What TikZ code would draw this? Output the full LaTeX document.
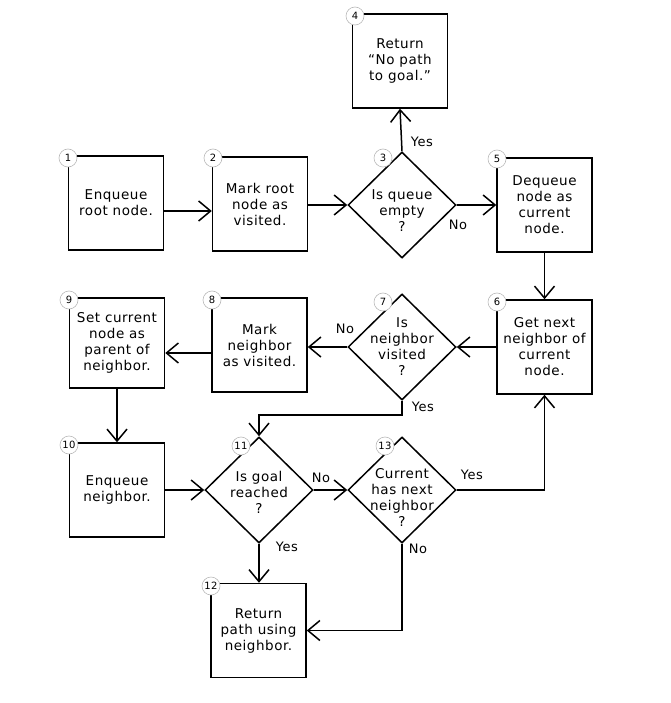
\documentclass[tikz,border=0pt]{standalone}
\usepackage{fontspec}
\setmainfont{DejaVu Sans}[LetterSpace=4]
\usetikzlibrary{arrows.meta,shapes.geometric}
\begin{document}
\begin{tikzpicture}[x=1pt,y=-1pt,
  every node/.style={font=\fontsize{13.5}{16}\selectfont},
  box/.style={draw, line width=1.5pt, minimum width=95pt, minimum height=94pt, align=center, inner sep=1pt},
  dia/.style={draw, diamond, line width=1.5pt, minimum width=108pt, minimum height=106pt, inner sep=0pt},
  txt/.style={align=center, inner sep=0pt},
  num/.style={circle, draw=gray!55, fill=white, line width=0.6pt, minimum size=18pt, inner sep=0.5pt, font=\fontsize{10}{11}\selectfont},
  arr/.style={line width=1.5pt, -{Straight Barb[length=12pt,width=20pt]}},
  lab/.style={inner sep=0pt, font=\fontsize{13}{14}\selectfont}
]
\fill[white] (0,0) rectangle (670,703);
\useasboundingbox (0,0) rectangle (670,703);

% boxes
\node[box] (b1) at (116,203) {Enqueue\\root node.};
\node[box] (b2) at (260,204) {Mark root\\node as\\visited.};
\node[box] (b4) at (400,61) {Return\\``No path\\to goal.''};
\node[box] (b5) at (544.5,205) {Dequeue\\node as\\current\\node.};
\node[box] (b6) at (544.5,347) {Get next\\neighbor of\\current\\node.};
\node[box] (b8) at (259.5,345) {Mark\\neighbor\\as visited.};
\node[box, minimum height=90pt] (b9) at (117,343) {Set current\\node as\\parent of\\neighbor.};
\node[box] (b10) at (117,490) {Enqueue\\neighbor.};
\node[box] (b12) at (258.5,630.5) {Return\\path using\\neighbor.};

% diamonds
\node[dia] (d3) at (402,205) {};
\node[txt] (t3) at (402,211) {Is queue\\empty\\?};
\node[dia] (d7) at (402,347) {};
\node[txt] (t7) at (402,347) {Is\\neighbor\\visited\\?};
\node[dia] (d11) at (259,490) {};
\node[txt] (t11) at (259,492) {Is goal\\reached\\?};
\node[dia] (d13) at (402,490) {};
\node[txt] (t13) at (402,497) {Current\\has next\\neighbor\\?};

% connectors
\draw[arr] ([yshift=-8pt]b1.east) -- ([yshift=-8pt]b1.east -| b2.west);
\draw[arr] (b2.east |- d3.west) -- (d3.west);
\draw[arr] (d3.north) -- (b4.south);
\draw[arr] (d3.east) -- (b5.west);
\draw[arr] (b5.south) -- (b6.north);
\draw[arr] (b6.west) -- (d7.east);
\draw[arr] (d7.west) -- (d7.west -| b8.east);
\draw[arr] ([yshift=-8pt]b8.west) -- ([yshift=-8pt]b8.west -| b9.east);
\draw[arr] (b9.south) -- (b10.north);
\draw[arr] (d7.south) -- ++(0,14) coordinate (c7) -| (d11.north);
\draw[arr] (b10.east) -- (d11.west);
\draw[arr] (d11.east) -- (d13.west);
\draw[arr] (d11.south) -- (d11.south |- b12.north);
\draw[arr] (d13.east) -| (b6.south);
\draw[arr] (d13.south) |- (b12.east);

% connector labels
\node[lab] (y3) at (422,142) {Yes};
\node[lab] (n3) at (458,225) {No};
\node[lab] (n7) at (345,329) {No};
\node[lab] (y7) at (423,407) {Yes};
\node[lab] (n11) at (321,478) {No};
\node[lab] (y11) at (287,547) {Yes};
\node[lab] (y13) at (472,475) {Yes};
\node[lab] (n13) at (418,549) {No};

% number badges
\node[num] (n1c) at (68,158) {1};
\node[num] (n2c) at (213,158) {2};
\node[num] (n3c) at (383,158) {3};
\node[num] (n4c) at (355,16) {4};
\node[num] (n5c) at (497,159) {5};
\node[num] (n6c) at (497,302) {6};
\node[num] (n7c) at (383,302) {7};
\node[num] (n8c) at (212,300) {8};
\node[num] (n9c) at (69,300) {9};
\node[num] (n10c) at (69,445) {10};
\node[num] (n11c) at (241,446) {11};
\node[num] (n13c) at (385,446) {13};
\node[num] (n12c) at (211,586) {12};
\end{tikzpicture}
\end{document}
